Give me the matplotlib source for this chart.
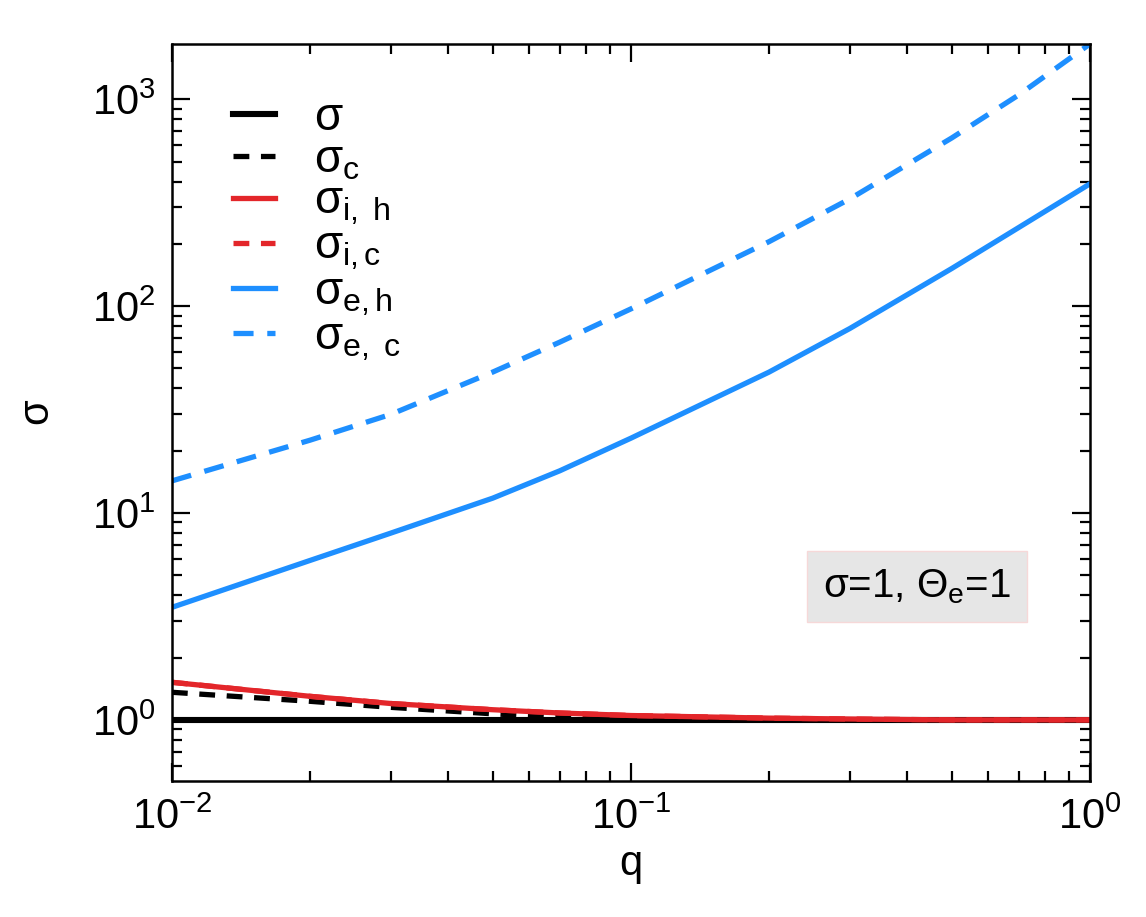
import numpy as np
import matplotlib
matplotlib.use("Agg")
import matplotlib.pyplot as plt

plt.rcParams['font.family'] = ['Liberation Sans', 'DejaVu Sans']
plt.rcParams['mathtext.fontset'] = 'custom'
plt.rcParams['mathtext.rm'] = 'Liberation Sans'
plt.rcParams['mathtext.it'] = 'Liberation Sans'

# data
q = [0.01, 0.02, 0.03, 0.05, 0.07, 0.1, 0.2, 0.3, 0.5, 0.7, 1.0]
sigma = [1.0] * len(q)
sigma_c = [1.36, 1.23, 1.15, 1.07, 1.03, 1.01, 1.0, 1.0, 1.0, 1.0, 1.0]
sigma_ih = [1.52, 1.30, 1.20, 1.12, 1.08, 1.05, 1.02, 1.01, 1.0, 1.0, 1.0]
sigma_ic = [1.52, 1.30, 1.20, 1.12, 1.08, 1.05, 1.02, 1.01, 1.0, 1.0, 1.0]
sigma_eh = [3.5, 5.9, 8.0, 11.8, 16.0, 23.0, 48.0, 78.0, 152.0, 240.0, 390.0]
sigma_ec = [14.3, 22.5, 30.0, 48.0, 67.0, 97.0, 205.0, 330.0, 650.0, 1050.0, 1850.0]

blue = '#1e8fff'
red = '#e3262a'

fig = plt.figure(figsize=(11.46, 9.17), dpi=100)
ax = fig.add_axes([0.150, 0.148, 0.801, 0.804])

lw = 3.8
ax.plot(q, sigma, color='black', lw=4.4, label=r'$\sigma$')
ax.plot(q, sigma_c, color='black', lw=lw, dashes=(3, 2.2), label=r'$\sigma_{\mathrm{c}}$')
ax.plot(q, sigma_ic, color=red, lw=lw, dashes=(3, 2.2), label=r'$\sigma_{\mathrm{i,c}}$')
ax.plot(q, sigma_ih, color=red, lw=lw, label=r'$\sigma_{\mathrm{i,\ h}}$')
ax.plot(q, sigma_eh, color=blue, lw=lw, label=r'$\sigma_{\mathrm{e,h}}$')
ax.plot(q, sigma_ec, color=blue, lw=lw, dashes=(3.8, 2.6), label=r'$\sigma_{\mathrm{e,\ c}}$')

ax.set_xscale('log')
ax.set_yscale('log')
ax.set_xlim(0.01, 1.0)
ax.set_ylim(0.505, 1850)

ax.set_xlabel('q', fontsize=30, labelpad=4)
ax.set_ylabel(r'$\sigma$', fontsize=30, labelpad=24)

ax.tick_params(which='both', direction='in', top=True, right=True, labelsize=30, width=1.6)
ax.tick_params(which='major', length=13, pad=12)
ax.tick_params(which='minor', length=7)
for s in ax.spines.values():
    s.set_linewidth(1.8)

handles, labels = ax.get_legend_handles_labels()
order = [0, 1, 3, 2, 4, 5]
ax.legend([handles[i] for i in order], [labels[i] for i in order],
          loc='upper left', bbox_to_anchor=(0.022, 0.985), frameon=False,
          fontsize=33, handlelength=0.9, handletextpad=0.85, labelspacing=-0.05)

ax.text(0.812, 0.264, r'$\sigma$=1, $\Theta_{\mathrm{e}}$=1', transform=ax.transAxes,
        fontsize=29, ha='center', va='center',
        bbox=dict(boxstyle='square,pad=0.4', fc='#e6e6e6', ec='#f6d8d8', lw=1))

fig.savefig('out.png', dpi=100)
